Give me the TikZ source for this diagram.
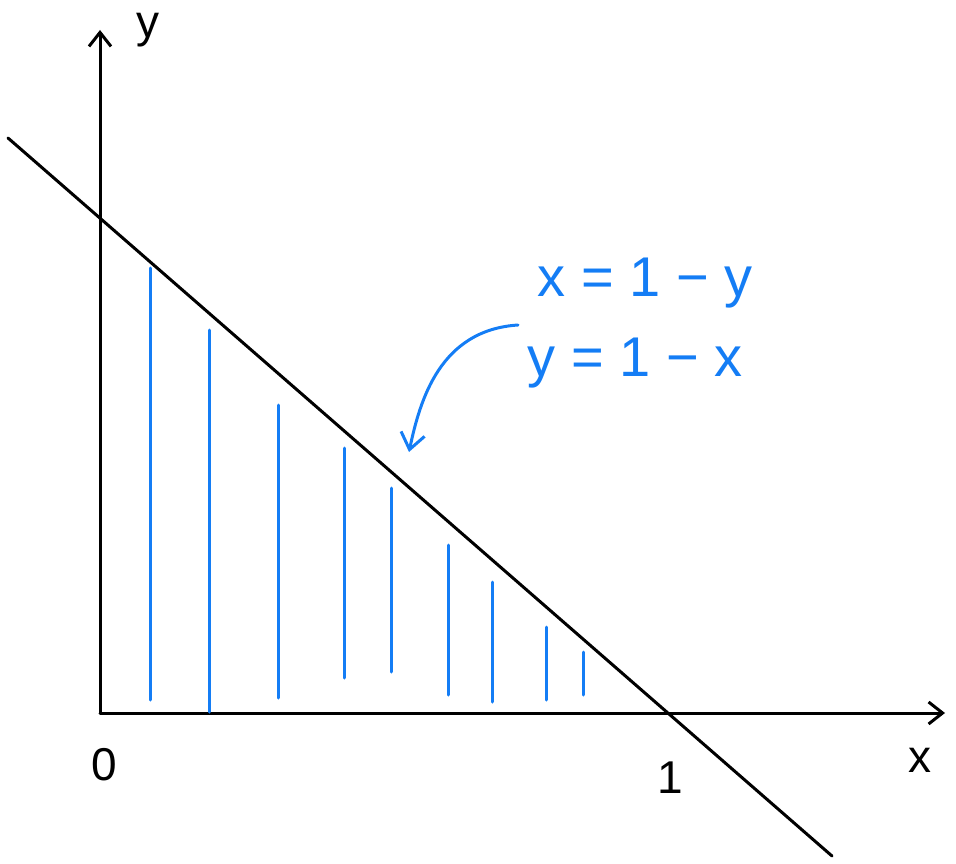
\documentclass[tikz,border=0pt]{standalone}
\usepackage{fontspec}
\setmainfont{Liberation Sans}
\usepackage{tikz}
\usetikzlibrary{arrows.meta}

\definecolor{penblue}{RGB}{20,125,245}

\begin{document}
\begin{tikzpicture}[
    x=1pt, y=-1pt,
    axis/.style={line width=3pt, black, line cap=round},
    axistip/.style={-{Straight Barb[length=14pt, width=22pt, line width=3pt]}},
    hatch/.style={line width=3pt, penblue, line cap=round},
    bigtext/.style={font=\fontsize{46}{52}\selectfont, inner sep=0pt},
    eqtext/.style={font=\fontsize{56}{62}\selectfont, text=penblue, inner sep=0pt}
]
\path[use as bounding box] (0,0) rectangle (956,864);
% axes
\coordinate (O) at (100,713);
\coordinate (xend) at (945,713);
\coordinate (yend) at (100,30);
\draw[axis, axistip] (O) -- (xend);
\draw[axis, axistip] (O) -- (yend);
% line x + y = 1
\coordinate (lstart) at (8,138);
\coordinate (lend) at (832,856);
\draw[axis] (lstart) -- (lend);
% labels
\node[bigtext] (ylab) at (148,30) {y};
\node[bigtext] (olab) at (104,765) {0};
\node[bigtext] (onelab) at (670,778) {1};
\node[bigtext] (xlab) at (920,760) {x};
% hatching under the line
\foreach \hx/\htop/\hbot in {150/268/700, 209/330/712, 278/405/698, 344/448/678,
    391/488/672, 448/545/695, 492/582/702, 546/627/700, 583/652/695}
  \draw[hatch] (\hx,\htop) -- (\hx,\hbot);
% equations and pointer
\node[eqtext] (eq1) at (645,283) {x = 1 − y};
\node[eqtext] (eq2) at (635,363) {y = 1 − x};
\coordinate (arrowstart) at (518,325);
\coordinate (tip) at (409,452);
\draw[hatch, -{Straight Barb[length=16pt, width=24pt, line width=3pt]}]
  (arrowstart) .. controls (440,330) and (420,400) .. (tip);
\end{tikzpicture}
\end{document}
